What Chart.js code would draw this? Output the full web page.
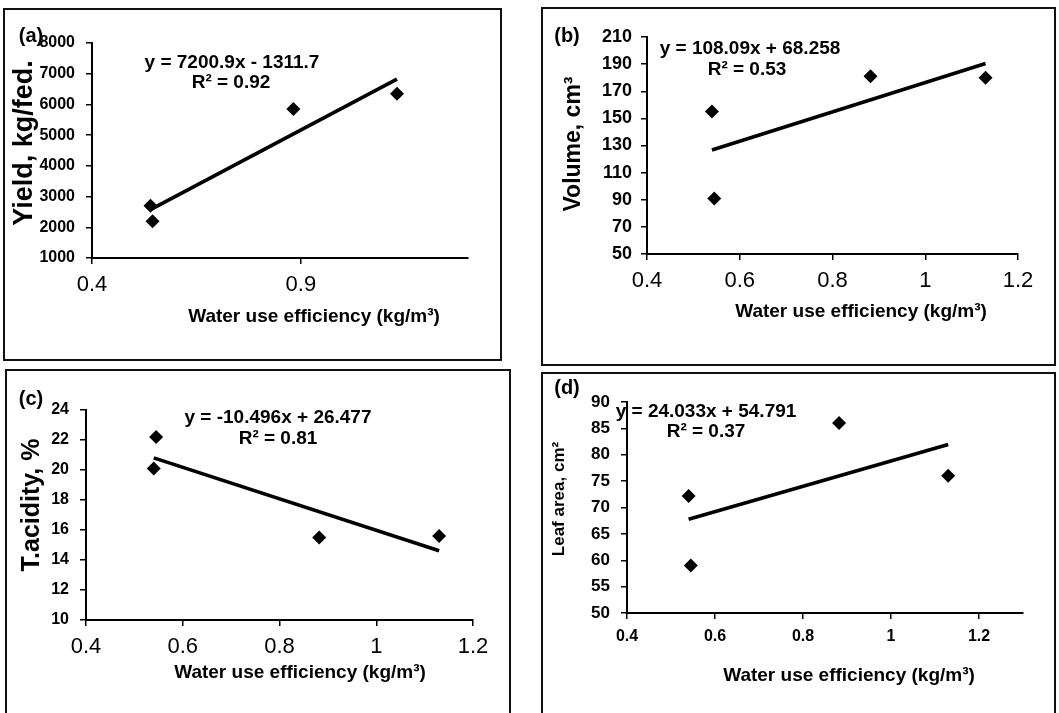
<!DOCTYPE html>
<html><head><meta charset="utf-8">
<script src="https://cdn.jsdelivr.net/npm/chart.js@4.4.0/dist/chart.umd.min.js"></script>
<style>
html,body{margin:0;padding:0;background:#fff;width:1059px;height:713px;overflow:hidden;position:relative;font-family:"Liberation Sans",Arial,sans-serif;color:#000}
canvas{position:absolute}
.box{position:absolute;border:2px solid #111;box-sizing:border-box;pointer-events:none}
.t{position:absolute;white-space:nowrap;font-weight:bold;transform:translate(-50%,-50%);line-height:1}
.rot{transform:translate(-50%,-50%) rotate(-90deg)}
</style></head><body>
<script>
// ---- data ----
const wue = [0.54, 0.545, 0.882, 1.13];
const yieldKgFed = [2700, 2200, 5850, 6350];
const volumeCm3 = [155, 91, 181, 180];
const acidityPct = [20.1, 22.2, 15.5, 15.6];
const leafAreaCm2 = [72.2, 59.0, 86.0, 76.0];
const trendSlope = [7200.9, 108.09, -10.496, 24.033];
const trendIntercept = [-1311.7, 68.258, 26.477, 54.791];
const xTicksA = [0.4, 0.9];
const xTicksBCD = [0.4, 0.6, 0.8, 1, 1.2];
const yTicksA = [1000, 2000, 3000, 4000, 5000, 6000, 7000, 8000];
const yTicksB = [50, 70, 90, 110, 130, 150, 170, 190, 210];
const yTicksC = [10, 12, 14, 16, 18, 20, 22, 24];
const yTicksD = [50, 55, 60, 65, 70, 75, 80, 85, 90];
const panelLabels = ['(a)', '(b)', '(c)', '(d)'];
const yTitles = ['Yield, kg/fed.', 'Volume, cm³', 'T.acidity, %', 'Leaf area, cm²'];
const xTitle = 'Water use efficiency (kg/m³)';
const equations = ['y = 7200.9x - 1311.7', 'y = 108.09x + 68.258', 'y = -10.496x + 26.477', 'y = 24.033x + 54.791'];
const r2Labels = ['R² = 0.92', 'R² = 0.53', 'R² = 0.81', 'R² = 0.37'];

// ---- layout / styling ----
const FAM = '"Liberation Sans", Arial, sans-serif';
const panels = [
  {box:[3,8,502,361], area:[92,43,468,258], y:yieldKgFed, yTicks:yTicksA, xTicks:xTicksA, xMax:1.3,
   yFont:{size:16,weight:'bold'}, xFont:{size:22,weight:'normal'}, yPad:11, xPad:8,
   lab:[31,35], yt:[23,143,27], eq:[232,61], r2:[231,81], xt:[314,315]},
  {box:[541,7,1056,366], area:[647,37,1018,254], y:volumeCm3, yTicks:yTicksB, xTicks:xTicksBCD, xMax:1.2,
   yFont:{size:18,weight:'bold'}, xFont:{size:22,weight:'normal'}, yPad:9, xPad:8,
   lab:[567,35], yt:[572,144,23], eq:[750,47], r2:[747,68], xt:[861,310]},
  {box:[5,369,511,730], area:[86,410,473,620], y:acidityPct, yTicks:yTicksC, xTicks:xTicksBCD, xMax:1.2,
   yFont:{size:16,weight:'bold'}, xFont:{size:22,weight:'normal'}, yPad:11, xPad:8,
   lab:[31,398], yt:[30,505,25], eq:[278,416], r2:[278,437], xt:[300,671]},
  {box:[541,372,1056,730], area:[627,402,1023,613], y:leafAreaCm2, yTicks:yTicksD, xTicks:xTicksBCD, xMax:1.3,
   yFont:{size:17,weight:'bold'}, xFont:{size:16,weight:'bold'}, yPad:11, xPad:8,
   lab:[567,387], yt:[558,499,17], eq:[706,410], r2:[706,430], xt:[849,674]}
];

function addText(txt, x, y, size, extraClass){
  const d = document.createElement('div');
  d.className = 't' + (extraClass ? ' ' + extraClass : '');
  d.textContent = txt;
  d.style.left = x + 'px'; d.style.top = y + 'px'; d.style.fontSize = size + 'px';
  document.body.appendChild(d);
}

panels.forEach((p, i) => {
  const [L, T, R, B] = p.box;
  const [aL, aT, aR, aB] = p.area;
  const W = R - L, H = B - T;
  const cv = document.createElement('canvas');
  cv.width = W; cv.height = H;
  cv.style.left = L + 'px'; cv.style.top = T + 'px';
  cv.style.width = W + 'px'; cv.style.height = H + 'px';
  document.body.appendChild(cv);
  const bx = document.createElement('div');
  bx.className = 'box';
  bx.style.left = L + 'px'; bx.style.top = T + 'px'; bx.style.width = W + 'px'; bx.style.height = H + 'px';
  document.body.appendChild(bx);

  const xmin = Math.min(...wue), xmax = Math.max(...wue);
  const trend = [xmin, xmax].map(x => ({x: x, y: trendSlope[i] * x + trendIntercept[i]}));
  const pts = wue.map((x, k) => ({x: x, y: p.y[k]}));

  new Chart(cv, {
    type: 'scatter',
    data: {datasets: [
      {type:'line', data: trend, borderColor:'#000', borderWidth:3.6, pointRadius:0, fill:false, tension:0, order:1},
      {data: pts, pointStyle:'rectRot', pointRadius:7, pointHoverRadius:7, backgroundColor:'#000', borderColor:'#000', borderWidth:0, order:0}
    ]},
    options: {
      responsive:false, animation:false, devicePixelRatio:1,
      layout:{padding:{left:0, top:aT - T, right:R - aR, bottom:0}},
      plugins:{legend:{display:false}, tooltip:{enabled:false}},
      scales:{
        x:{type:'linear', position:'bottom', min:0.4, max:p.xMax,
           afterBuildTicks:s => { s.ticks = p.xTicks.map(v => ({value:v})); },
           afterFit:s => { s.height = B - aB; },
           grid:{drawOnChartArea:false, drawTicks:true, tickLength:6, color:'#000', lineWidth:1.5},
           border:{display:true, color:'#000', width:2},
           ticks:{color:'#000', font:{family:FAM, size:p.xFont.size, weight:p.xFont.weight}, padding:p.xPad,
                  maxRotation:0, autoSkip:false, callback:v => String(v)}},
        y:{type:'linear', position:'left', min:p.yTicks[0], max:p.yTicks[p.yTicks.length-1],
           afterBuildTicks:s => { s.ticks = p.yTicks.map(v => ({value:v})); },
           afterFit:s => { s.width = aL - L; },
           grid:{drawOnChartArea:false, drawTicks:true, tickLength:6, color:'#000', lineWidth:1.5},
           border:{display:true, color:'#000', width:2},
           ticks:{color:'#000', font:{family:FAM, size:p.yFont.size, weight:p.yFont.weight}, padding:p.yPad,
                  autoSkip:false, callback:v => String(v)}}
      }
    }
  });

  addText(panelLabels[i], p.lab[0], p.lab[1], 20);
  addText(yTitles[i], p.yt[0], p.yt[1], p.yt[2], 'rot');
  addText(equations[i], p.eq[0], p.eq[1], 19);
  addText(r2Labels[i], p.r2[0], p.r2[1], 19);
  addText(xTitle, p.xt[0], p.xt[1], 19);
});
</script>
</body></html>
